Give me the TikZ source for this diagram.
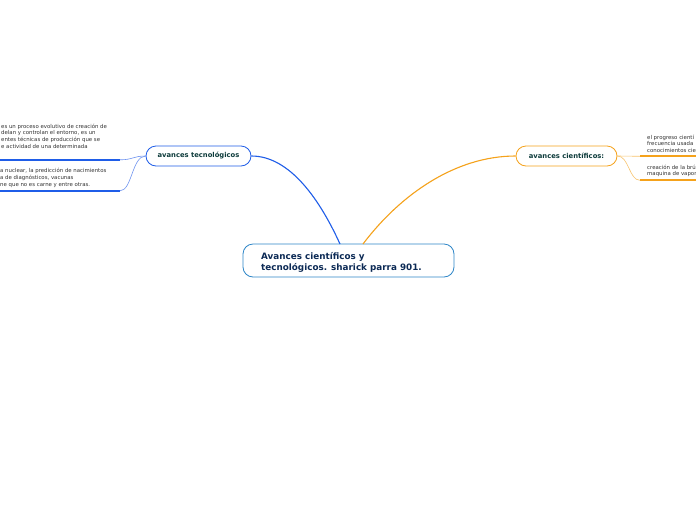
\documentclass[tikz,border=0pt]{standalone}
\usepackage{fontspec}
\setmainfont{DejaVu Sans}
\definecolor{bluel}{HTML}{1F5DE8}
\definecolor{bluethin}{HTML}{6E93F0}
\definecolor{orangel}{HTML}{F5A21B}
\definecolor{orangethin}{HTML}{F8C46E}
\definecolor{centb}{HTML}{2E86C8}
\definecolor{navy}{HTML}{0C2A55}
\definecolor{teal}{HTML}{0D3B3B}
\definecolor{smalltxt}{HTML}{333333}
\begin{document}
\begin{tikzpicture}[x=1pt,y=-1pt,
  topic/.style={draw, rounded corners=10pt, line width=0.8pt, fill=white, inner sep=0pt},
  topictext/.style={font=\bfseries\fontsize{6.8}{8}\selectfont, text=teal},
  small/.style={font=\fontsize{5.4}{6.8}\selectfont, text=smalltxt, align=left, inner sep=0pt},
  under/.style={line width=1.8pt},
  thin/.style={line width=0.6pt}]
\useasboundingbox[fill=white] (0,0) rectangle (696,520);

% central
\node[topic, draw=centb, minimum width=211pt, minimum height=33pt] (main) at (348.5,260.5) {};
\node[anchor=west, align=left, inner sep=0pt, text=navy, font=\bfseries\fontsize{8.8}{11}\selectfont] (maintext) at (261,262) {Avances científicos y\\tecnológicos. sharick parra 901.};

% topics
\node[topic, draw=bluel, minimum width=105pt, minimum height=20pt] (tec) at (198.5,156) {};
\node[topictext] (tectext) at (tec.center) {avances tecnológicos};
\node[topic, draw=orangel, minimum width=101pt, minimum height=20pt] (cie) at (566.5,156) {};
\node[topictext] (cietext) at (cie.center) {avances científicos:};

\coordinate (mb) at (340,244);
\coordinate (mo) at (363,244);
\draw[bluel, line width=1.1pt] (tec.east) .. controls (290,156) and (320,200) .. (mb);
\draw[orangel, line width=1.1pt] (cie.west) .. controls (455,156) and (400,195) .. (mo);

% left branches
\coordinate (l1) at (120,159.8);
\coordinate (l1a) at (0,159.8);
\coordinate (l2) at (120,190.8);
\coordinate (l2a) at (0,190.8);
\draw[bluel, under] (l1a) -- (l1);
\draw[bluel, under] (l2a) -- (l2);
\draw[bluethin, thin] (tec.west) .. controls (133,156) and (133,159.8) .. (l1);
\draw[bluethin, thin] (tec.west) .. controls (132,156) and (132,190.8) .. (l2);
\node[small, anchor=north west] (t1) at (1,123.5) {es un proceso evolutivo de creación de\\delan y controlan el entorno, es un\\entes técnicas de producción que se\\e actividad de una determinada};
\node[small, anchor=north west] (t2) at (0,168) {a nuclear, la predicción de nacimientos\\a de diagnósticos, vacunas\\ne que no es carne y entre otras.};

% right branches
\coordinate (r1) at (640,156.3);
\coordinate (r1a) at (696,156.3);
\coordinate (r2) at (640,180.3);
\coordinate (r2a) at (696,180.3);
\draw[orangethin, thin] (cie.east) -- (r1);
\draw[orangethin, thin] (cie.east) .. controls (629,156) and (629,180.3) .. (r2);
\draw[orangel, under] (r1) -- (r1a);
\draw[orangel, under] (r2) -- (r2a);
\node[small, anchor=north west] (t3) at (647,134.5) {el progreso cientí\\frecuencia usada\\conocimientos cie};
\node[small, anchor=north west] (t4) at (647,164.5) {creación de la brú\\maquina de vapor};
\end{tikzpicture}
\end{document}
